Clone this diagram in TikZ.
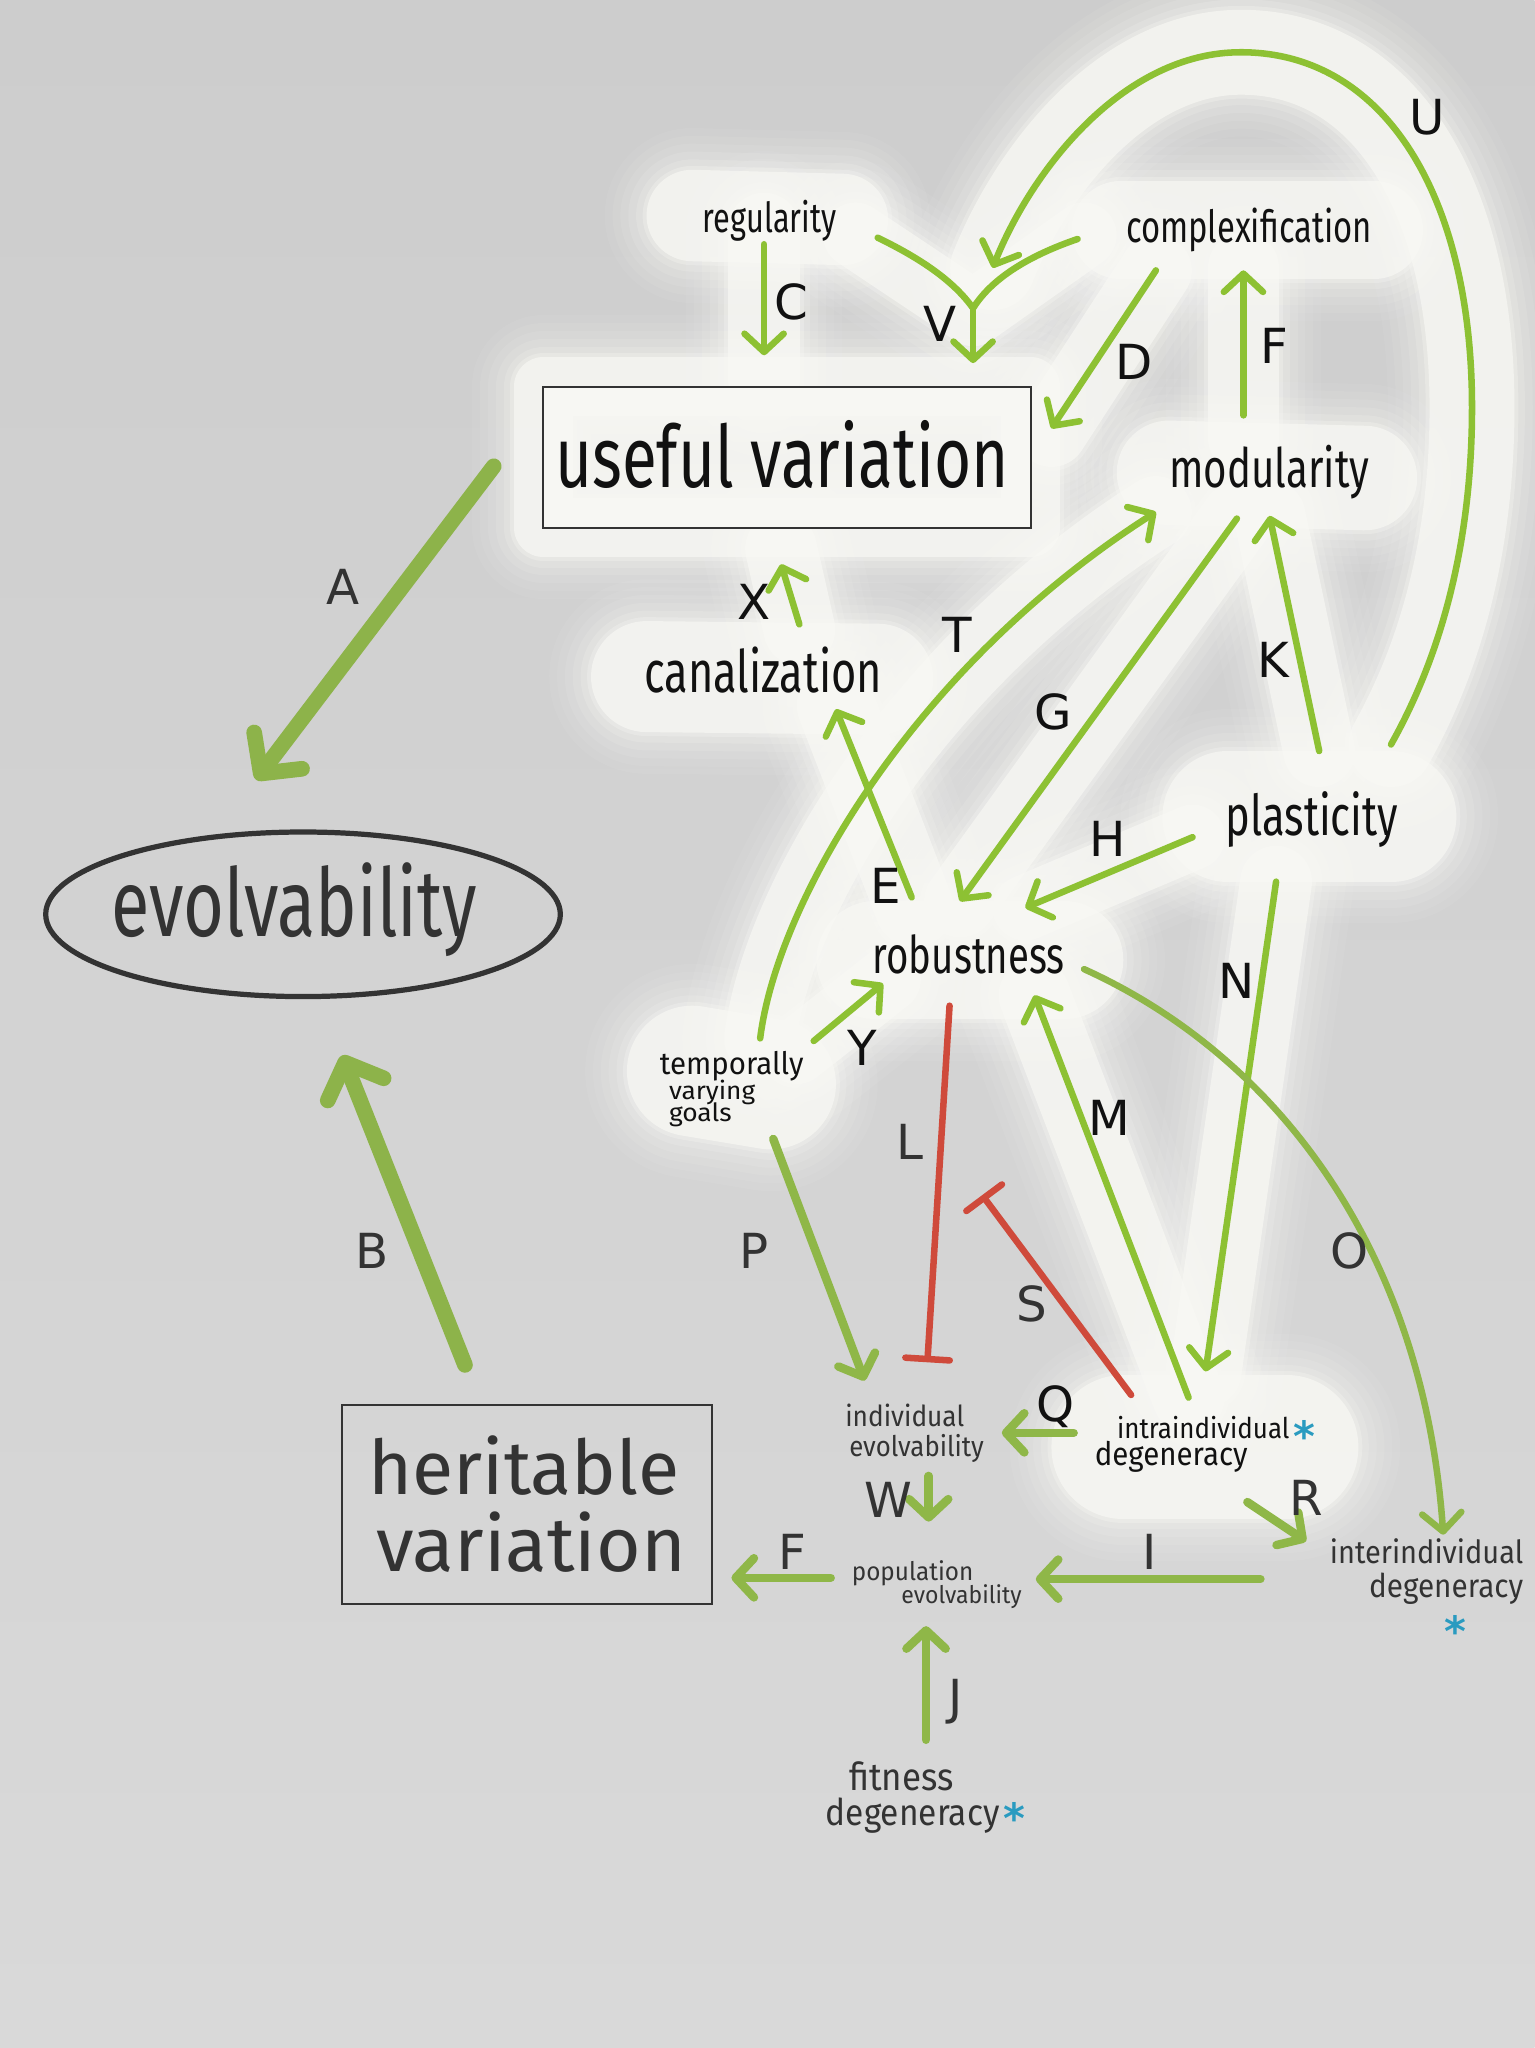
\documentclass[tikz,border=0pt]{standalone}
\usepackage{fontspec}
\setmainfont{DejaVu Sans}
\newfontfamily\hand{Fira Sans}
\usetikzlibrary{arrows.meta,shapes.geometric}
\definecolor{bgt}{HTML}{CDCDCD}
\definecolor{bgb}{HTML}{D9D9D9}
\definecolor{glw}{HTML}{F8F8F4}
\definecolor{grn}{HTML}{8DC133}
\definecolor{grnd}{HTML}{8FB748}
\definecolor{grnb}{HTML}{8DB34A}
\definecolor{redl}{HTML}{CF4A3B}
\definecolor{astc}{HTML}{2A9BC0}
\definecolor{ink}{HTML}{111111}
\definecolor{inkg}{HTML}{333333}
\newcommand\hwt[3][1.35]{\scalebox{1}[#1]{\resizebox{#2pt}{!}{\hand\fontsize{20}{20}\selectfont #3}}}
\newcommand\glowpaths{%
 \path[g=70] (530,165) -- (645,168);
 \path[g=75] (858,176) -- (1052,176);
 \path[g=50] (655,180) -- (745,240) -- (830,180);
 \path[g=55] (585,175) -- (585,290);
 \path[g=65] (1065,570) .. controls (1110,490) and (1127,400) .. (1127,312) .. controls (1127,150) and (1060,40) .. (950,40) .. controls (860,40) and (790,130) .. (760,205);
 \path[g=45, fill=glw] (416,296) rectangle (789,404);
 \path[g=55] (885,207) -- (805,330);
 \path[g=55] (952,205) -- (952,335);
 \path[g=80] (895,362) -- (1045,366);
 \path[g=85] (495,518) -- (672,520);
 \path[g=55] (598,420) -- (612,482);
 \path[g=60] (640,540) -- (700,695);
 \path[g=55] (582,795) .. controls (595,690) and (700,510) .. (885,392);
 \path[g=55] (947,397) -- (735,690);
 \path[g=55] (1010,575) -- (972,395);
 \path[g=100] (940,625) -- (1065,625);
 \path[g=50] (913,641) -- (785,695);
 \path[g=90] (670,735) -- (815,735);
 \path[g=100] (530,820) -- (590,830);
 \path[g=50] (610,805) -- (680,750);
 \path[g=55] (910,1070) -- (792,762);
 \path[g=55] (977,675) -- (923,1050);
 \path[g=110] (860,1108) -- (985,1108);
}
\begin{document}
\begin{tikzpicture}[x=1pt,y=-1pt,
  g/.style={draw=glw, line width={(#1+\gex)*1pt}, opacity=\gop, line cap=round, line join=round},
  hw/.style={inner sep=0pt, text=ink},
  hwg/.style={inner sep=0pt, text=inkg},
  lab/.style={font=\fontsize{37}{40}\selectfont, text=ink, inner sep=0pt},
  labg/.style={lab, text=inkg},
  ga/.style={draw=grn, line width=5pt, line cap=round, -{Straight Barb[length=14pt,width=30pt,line cap=round,line join=round]}},
  gline/.style={draw=grn, line width=5pt, line cap=round},
  gd/.style={ga, draw=grnd, line width=6.5pt},
  big/.style={draw=grnb, line width=12pt, line cap=round, -{Straight Barb[length=22pt,width=46pt,line cap=round,line join=round]}},
  inh/.style={draw=redl, line width=5pt, line cap=round, -{Bar[width=34pt,line cap=round]}},
  ast/.style={text=astc, inner sep=0pt, anchor=north, font=\fontsize{32}{32}\selectfont\bfseries},
  boxn/.style={draw=inkg, line width=1.6pt, rectangle, inner sep=0pt}
]
\useasboundingbox (0,0) rectangle (1175,1568);
\shade[top color=bgt, bottom color=bgb] (0,0) rectangle (1175,1568);

% glow
\def\gex{64}\def\gop{0.07}\glowpaths
\def\gex{52}\def\gop{0.08}\glowpaths
\def\gex{40}\def\gop{0.10}\glowpaths
\def\gex{28}\def\gop{0.13}\glowpaths
\def\gex{16}\def\gop{0.18}\glowpaths
\def\gex{6}\def\gop{0.3}\glowpaths
\def\gex{0}\def\gop{0.7}\glowpaths

% boxes / ellipse
\node[boxn, minimum width=373pt, minimum height=108pt] (uv) at (602.5,350) {};
\node[boxn, minimum width=283pt, minimum height=152pt] (hv) at (403.5,1152) {};
\node[ellipse, draw=inkg, line width=4pt, minimum width=394pt, minimum height=126pt, inner sep=0pt] (ev) at (232,700) {};

% texts
\node[hw, anchor=base west] (uvt) at (425,373) {\hwt{347}{useful variation}};
\node[hw, anchor=base west] (reg) at (538,178) {\hwt{102}{regularity}};
\node[hw, anchor=base west] (cpx) at (862,186) {\hwt{188}{complexification}};
\node[hw, anchor=base west] (mod) at (895,373) {\hwt{153}{modularity}};
\node[hw, anchor=base west] (can) at (493,530) {\hwt{182}{canalization}};
\node[hwg, anchor=base west] (evt) at (85,717) {\hwt{280}{evolvability}};
\node[hw, anchor=base west] (pla) at (938,640) {\hwt{132}{plasticity}};
\node[hw, anchor=base west] (rob) at (668,745) {\hwt{147}{robustness}};
\node[hw, anchor=base west] (tvg1) at (505,823) {\hwt[1.05]{110}{temporally}};
\node[hw, anchor=base west] (tvg2) at (512,842) {\hwt[0.95]{66}{varying}};
\node[hw, anchor=base west] (tvg3) at (512,859) {\hwt[0.95]{48}{goals}};
\node[hwg, anchor=base west] (hv1) at (282,1144) {\hwt[1.0]{238}{heritable}};
\node[hwg, anchor=base west] (hv2) at (288,1203) {\hwt[1.0]{237}{variation}};
\node[hwg, anchor=base west] (iev1) at (647,1092) {\hwt[1.1]{91}{individual}};
\node[hwg, anchor=base west] (iev2) at (650,1115) {\hwt[1.1]{103}{evolvability}};
\node[hw, anchor=base west] (intra1) at (855,1101) {\hwt[1.1]{132}{intraindividual}};
\node[hw, anchor=base west] (intra2) at (838,1122) {\hwt[1.1]{117}{degeneracy}};
\node[ast] (intraA) at (999,1087) {*};
\node[hwg, anchor=base west] (pev1) at (652,1210) {\hwt[1.05]{93}{population}};
\node[hwg, anchor=base west] (pev2) at (690,1228) {\hwt[1.05]{92}{evolvability}};
\node[hwg, anchor=base west] (inter1) at (1018,1197) {\hwt[1.1]{148}{interindividual}};
\node[hwg, anchor=base west] (inter2) at (1048,1223) {\hwt[1.1]{118}{degeneracy}};
\node[ast] (interA) at (1114,1237) {*};
\node[hwg, anchor=base west] (fit1) at (650,1371) {\hwt[1.1]{80}{fitness}};
\node[hwg, anchor=base west] (fit2) at (632,1398) {\hwt[1.1]{133}{degeneracy}};
\node[ast] (fitA) at (777,1380) {*};

% connector end points
\coordinate (uvA) at (378,357); \coordinate (evA) at (196,597);
\coordinate (hvB) at (356,1045); \coordinate (evB) at (262,808);
\coordinate (regC) at (585,187); \coordinate (uvC) at (585,272);
\coordinate (V1) at (672,182); \coordinate (V2) at (825,183); \coordinate (Vj) at (745,236); \coordinate (uvV) at (745,278);
\coordinate (plaU) at (1065,570); \coordinate (Vu) at (760,205);
\coordinate (cpxD) at (885,207); \coordinate (uvD) at (805,328);
\coordinate (modF) at (952,318); \coordinate (cpxF) at (952,207);
\coordinate (canX) at (612,478); \coordinate (uvX) at (598,432);
\coordinate (tvgT) at (582,795); \coordinate (modT) at (885,392);
\coordinate (modG) at (947,397); \coordinate (robG) at (735,690);
\coordinate (plaK) at (1010,575); \coordinate (modK) at (972,395);
\coordinate (robE) at (698,687); \coordinate (canE) at (640,543);
\coordinate (plaH) at (913,641); \coordinate (robH) at (785,695);
\coordinate (tvgY) at (623,797); \coordinate (robY) at (676,753);
\coordinate (robL) at (727,770); \coordinate (ievL) at (710,1043);
\coordinate (intS) at (866,1068); \coordinate (Sbar) at (752,915);
\coordinate (intM) at (910,1070); \coordinate (robM) at (792,762);
\coordinate (plaN) at (977,675); \coordinate (intN) at (923,1050);
\coordinate (robO) at (830,742); \coordinate (interO) at (1105,1175);
\coordinate (tvgP) at (592,872); \coordinate (ievP) at (662,1057);
\coordinate (intQ) at (822,1097); \coordinate (ievQ) at (767,1097);
\coordinate (ievW) at (711,1130); \coordinate (pevW) at (711,1165);
\coordinate (intR) at (955,1150); \coordinate (interR) at (1000,1180);
\coordinate (interI) at (965,1209); \coordinate (pevI) at (793,1209);
\coordinate (pevF) at (636,1208); \coordinate (hvF) at (560,1208);
\coordinate (fitJ) at (709,1332); \coordinate (pevJ) at (709,1245);

% connectors
\draw[big] (uvA) -- (evA);
\draw[big] (hvB) -- (evB);
\draw[ga] (regC) -- (uvC);
\draw[gline] (V1) .. controls (705,198) and (730,215) .. (Vj) .. controls (760,212) and (790,195) .. (V2);
\draw[ga] (Vj) -- (uvV);
\draw[ga] (plaU) .. controls (1110,490) and (1127,400) .. (1127,312) .. controls (1127,150) and (1060,40) .. (950,40) .. controls (860,40) and (790,130) .. (Vu);
\draw[ga] (cpxD) -- (uvD);
\draw[ga] (modF) -- (cpxF);
\draw[ga] (canX) -- (uvX);
\draw[ga] (tvgT) .. controls (595,690) and (700,510) .. (modT);
\draw[ga] (modG) -- (robG);
\draw[ga] (plaK) -- (modK);
\draw[ga] (robE) -- (canE);
\draw[ga] (plaH) -- (robH);
\draw[ga] (tvgY) -- (robY);
\draw[inh] (robL) -- (ievL);
\draw[inh] (intS) -- (Sbar);
\draw[ga] (intM) -- (robM);
\draw[ga] (plaN) -- (intN);
\draw[gd, line width=5pt] (robO) .. controls (980,810) and (1090,960) .. (interO);
\draw[gd] (tvgP) -- (ievP);
\draw[gd] (intQ) -- (ievQ);
\draw[gd] (ievW) -- (pevW);
\draw[gd] (intR) -- (interR);
\draw[gd] (interI) -- (pevI);
\draw[gd] (pevF) -- (hvF);
\draw[gd] (fitJ) -- (pevJ);

% labels
\node[labg] (lA) at (263,449) {A};
\node[labg] (lB) at (285,958) {B};
\node[lab] (lC) at (606,231) {C};
\node[lab] (lV) at (720,248) {V};
\node[lab] (lU) at (1093,90) {U};
\node[lab] (lD) at (868,277) {D};
\node[lab] (lF) at (976,265) {F};
\node[lab] (lX) at (577,461) {X};
\node[lab] (lT) at (733,486) {T};
\node[lab] (lG) at (806,545) {G};
\node[lab] (lK) at (975,505) {K};
\node[lab] (lE) at (678,678) {E};
\node[lab] (lH) at (848,642) {H};
\node[lab] (lY) at (660,802) {Y};
\node[labg] (lL) at (697,874) {L};
\node[labg] (lS) at (790,998) {S};
\node[lab] (lM) at (849,856) {M};
\node[lab] (lN) at (947,751) {N};
\node[labg] (lO) at (1033,958) {O};
\node[labg] (lP) at (577,958) {P};
\node[lab] (lQ) at (808,1077) {Q};
\node[labg] (lW) at (680,1148) {W};
\node[labg] (lR) at (1000,1147) {R};
\node[labg] (lI) at (880,1188) {I};
\node[labg] (lF2) at (607,1188) {F};
\node[labg] (lJ) at (732,1303) {J};
\end{tikzpicture}
\end{document}
